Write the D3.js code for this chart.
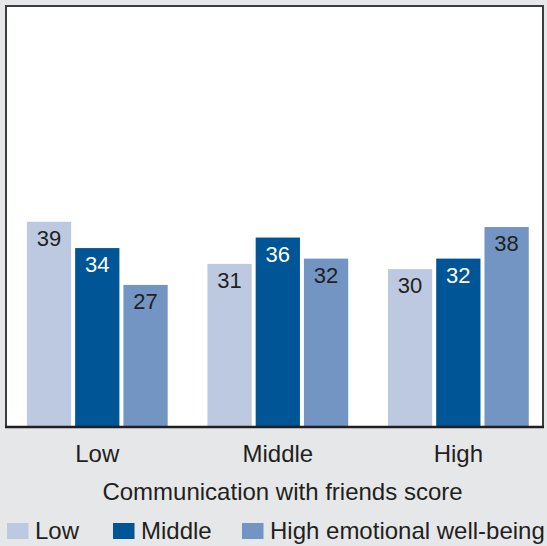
<!DOCTYPE html>
<html>
<head>
<meta charset="utf-8">
<script src="https://cdn.jsdelivr.net/npm/d3@7"></script>
<style>
  html, body { margin: 0; padding: 0; background: #e6e7e8; }
  svg { display: block; }
  text { font-family: "Liberation Sans", Arial, Helvetica, sans-serif; fill: #231f20; }
</style>
</head>
<body>
<svg id="chart" width="547" height="546"></svg>
<script>
const categories = ["Low", "Middle", "High"];
const seriesNames = ["Low", "Middle", "High emotional well-being"];
const lowValues = [39, 31, 30];
const middleValues = [34, 36, 32];
const highValues = [27, 32, 38];
const axisTitle = "Communication with friends score";
const colors = ["#bdc9e1", "#005596", "#7295c3"];
const labelColors = ["#231f20", "#ffffff", "#231f20"];

const seriesValues = [lowValues, middleValues, highValues];
const svg = d3.select("#chart");

const plot = { left: 6, top: 6, right: 543, bottom: 427 };

svg.append("rect")
  .attr("x", plot.left).attr("y", plot.top)
  .attr("width", plot.right - plot.left).attr("height", plot.bottom - plot.top)
  .attr("fill", "#ffffff");

const x0 = d3.scaleBand().domain(categories)
  .range([plot.left + 1, plot.right + 2])
  .paddingInner(0.22).paddingOuter(0.1).align(0.55);
const x1 = d3.scaleBand().domain(d3.range(seriesNames.length))
  .range([0, x0.bandwidth()]).paddingInner(0.083);
const y = d3.scaleLinear().domain([0, 80]).range([plot.bottom, plot.top]);

const groups = svg.append("g").selectAll("g").data(categories).join("g")
  .attr("transform", d => `translate(${x0(d)},0)`);

groups.each(function(cat, ci) {
  const g = d3.select(this);
  seriesValues.forEach((vals, si) => {
    const v = vals[ci];
    g.append("rect")
      .attr("x", x1(si)).attr("width", x1.bandwidth())
      .attr("y", y(v)).attr("height", y(0) - y(v))
      .attr("fill", colors[si]);
    g.append("text")
      .attr("x", x1(si) + x1.bandwidth() / 2)
      .attr("y", y(v) + 24)
      .attr("text-anchor", "middle")
      .attr("font-size", 22)
      .style("fill", labelColors[si])
      .text(v);
  });
});

// border
svg.append("rect")
  .attr("x", plot.left).attr("y", plot.top)
  .attr("width", plot.right - plot.left).attr("height", plot.bottom - plot.top)
  .attr("fill", "none").attr("stroke", "#3d3d3d").attr("stroke-width", 2);
svg.append("line")
  .attr("x1", plot.left - 1).attr("x2", plot.right + 1)
  .attr("y1", plot.bottom).attr("y2", plot.bottom)
  .attr("stroke", "#231f20").attr("stroke-width", 2.5);

// category axis
const xAxis = d3.axisBottom(x0).tickSize(0).tickPadding(0);
const ax = svg.append("g").attr("transform", `translate(0,${plot.bottom})`).call(xAxis);
ax.select(".domain").remove();
ax.selectAll("text")
  .attr("y", 35).attr("dy", null)
  .attr("font-size", 24)
  .style("fill", "#231f20")
  .attr("font-family", "Liberation Sans, Arial, sans-serif");

svg.append("text")
  .attr("x", 282.5).attr("y", 500)
  .attr("text-anchor", "middle")
  .attr("font-size", 24)
  .text(axisTitle);

// legend
const legendX = [7, 113, 242];
const leg = svg.append("g").selectAll("g").data(seriesNames).join("g")
  .attr("transform", (d, i) => `translate(${legendX[i]},523)`);
leg.append("rect").attr("width", 21.5).attr("height", 16)
  .attr("fill", (d, i) => colors[i]);
leg.append("text").attr("x", 28).attr("y", 16)
  .attr("font-size", 24).text(d => d);
</script>
</body>
</html>
